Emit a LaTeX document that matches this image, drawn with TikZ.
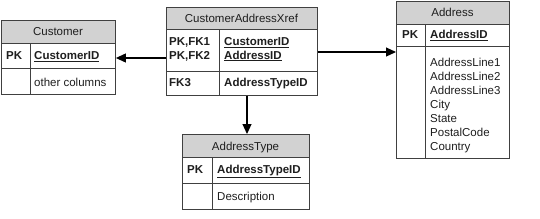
\documentclass[tikz,border=0pt]{standalone}
\usepackage{fontspec}
\setmainfont{Liberation Sans}
\usetikzlibrary{arrows.meta}
\definecolor{linegray}{RGB}{64,64,64}
\definecolor{hdrgray}{RGB}{210,210,210}
\definecolor{txt}{RGB}{30,30,30}
\begin{document}
\begin{tikzpicture}[x=1pt,y=-1pt,
 tbl/.style={draw=linegray, line width=0.9pt, inner sep=0pt, anchor=north west},
 sep/.style={draw=linegray, line width=0.9pt},
 lbl/.style={anchor=base west, inner sep=0pt, font=\fontsize{11.5}{13}\selectfont, text=txt},
 blbl/.style={lbl, font=\fontsize{11.5}{13}\selectfont\bfseries},
 ttl/.style={anchor=base, inner sep=0pt, font=\fontsize{11.5}{13}\selectfont, text=txt},
 conn/.style={draw=black, line width=1.1pt, -{Triangle[length=10pt,width=9pt]}}]
\useasboundingbox (0,0) rectangle (540,218);
\coordinate (ya) at (0,58);
\coordinate (yb) at (0,52);
\coordinate (xc) at (247,0);
% Customer
\fill[hdrgray] (1,20) rectangle (115,43);
\draw[sep] (1,43) -- (115,43) (1,68) -- (115,68) (30,43) -- (30,94);
\node[tbl, minimum width=114pt, minimum height=74pt] (cust) at (1,20) {};
\node[ttl] (custT) at (58,35.5) {Customer};
\node[blbl] (custPK) at (6,59.5) {PK};
\node[blbl] (custID) at (34,59.5) {\underline{CustomerID}};
\node[lbl] (custOC) at (34,86) {other columns};
% CustomerAddressXref
\fill[hdrgray] (166,7) rectangle (317,29);
\draw[sep] (166,29) -- (317,29) (166,71) -- (317,71) (219,29) -- (219,95);
\node[tbl, minimum width=151pt, minimum height=88pt] (xref) at (166,7) {};
\node[ttl] (xrefT) at (241.5,22) {CustomerAddressXref};
\node[blbl] (xk1) at (169,45.5) {PK,FK1};
\node[blbl] (xk2) at (169,59) {PK,FK2};
\node[blbl] (xc1) at (224,45.5) {\underline{CustomerID}};
\node[blbl] (xc2) at (224,59) {\underline{AddressID}};
\node[blbl] (xk3) at (169,86) {FK3};
\node[blbl] (xc3) at (224,86) {AddressTypeID};
% Address
\fill[hdrgray] (396,1) rectangle (509,24);
\draw[sep] (396,24) -- (509,24) (396,46) -- (509,46) (425,24) -- (425,158);
\node[tbl, minimum width=113pt, minimum height=157pt] (addr) at (396,1) {};
\node[ttl] (addrT) at (452.5,16) {Address};
\node[blbl] (addrPK) at (402,38.5) {PK};
\node[blbl] (addrID) at (430,38.5) {\underline{AddressID}};
\node[lbl] (a1) at (430,66.5) {AddressLine1};
\node[lbl] (a2) at (430,80.5) {AddressLine2};
\node[lbl] (a3) at (430,94.5) {AddressLine3};
\node[lbl] (a4) at (430,108.5) {City};
\node[lbl] (a5) at (430,122.5) {State};
\node[lbl] (a6) at (430,136.5) {PostalCode};
\node[lbl] (a7) at (430,150.5) {Country};
% AddressType
\fill[hdrgray] (182,134) rectangle (309,157);
\draw[sep] (182,157) -- (309,157) (182,183) -- (309,183) (212,157) -- (212,209);
\node[tbl, minimum width=127pt, minimum height=75pt] (atype) at (182,134) {};
\node[ttl] (atypeT) at (245.5,150) {AddressType};
\node[blbl] (atPK) at (187,173) {PK};
\node[blbl] (atID) at (217,173) {\underline{AddressTypeID}};
\node[lbl] (atD) at (217,200) {Description};
% connectors
\draw[conn] (xref.west |- ya) -- (cust.east |- ya);
\draw[conn] (xref.east |- yb) -- (addr.west |- yb);
\draw[conn] (xref.south -| xc) -- (atype.north -| xc);
\end{tikzpicture}
\end{document}
